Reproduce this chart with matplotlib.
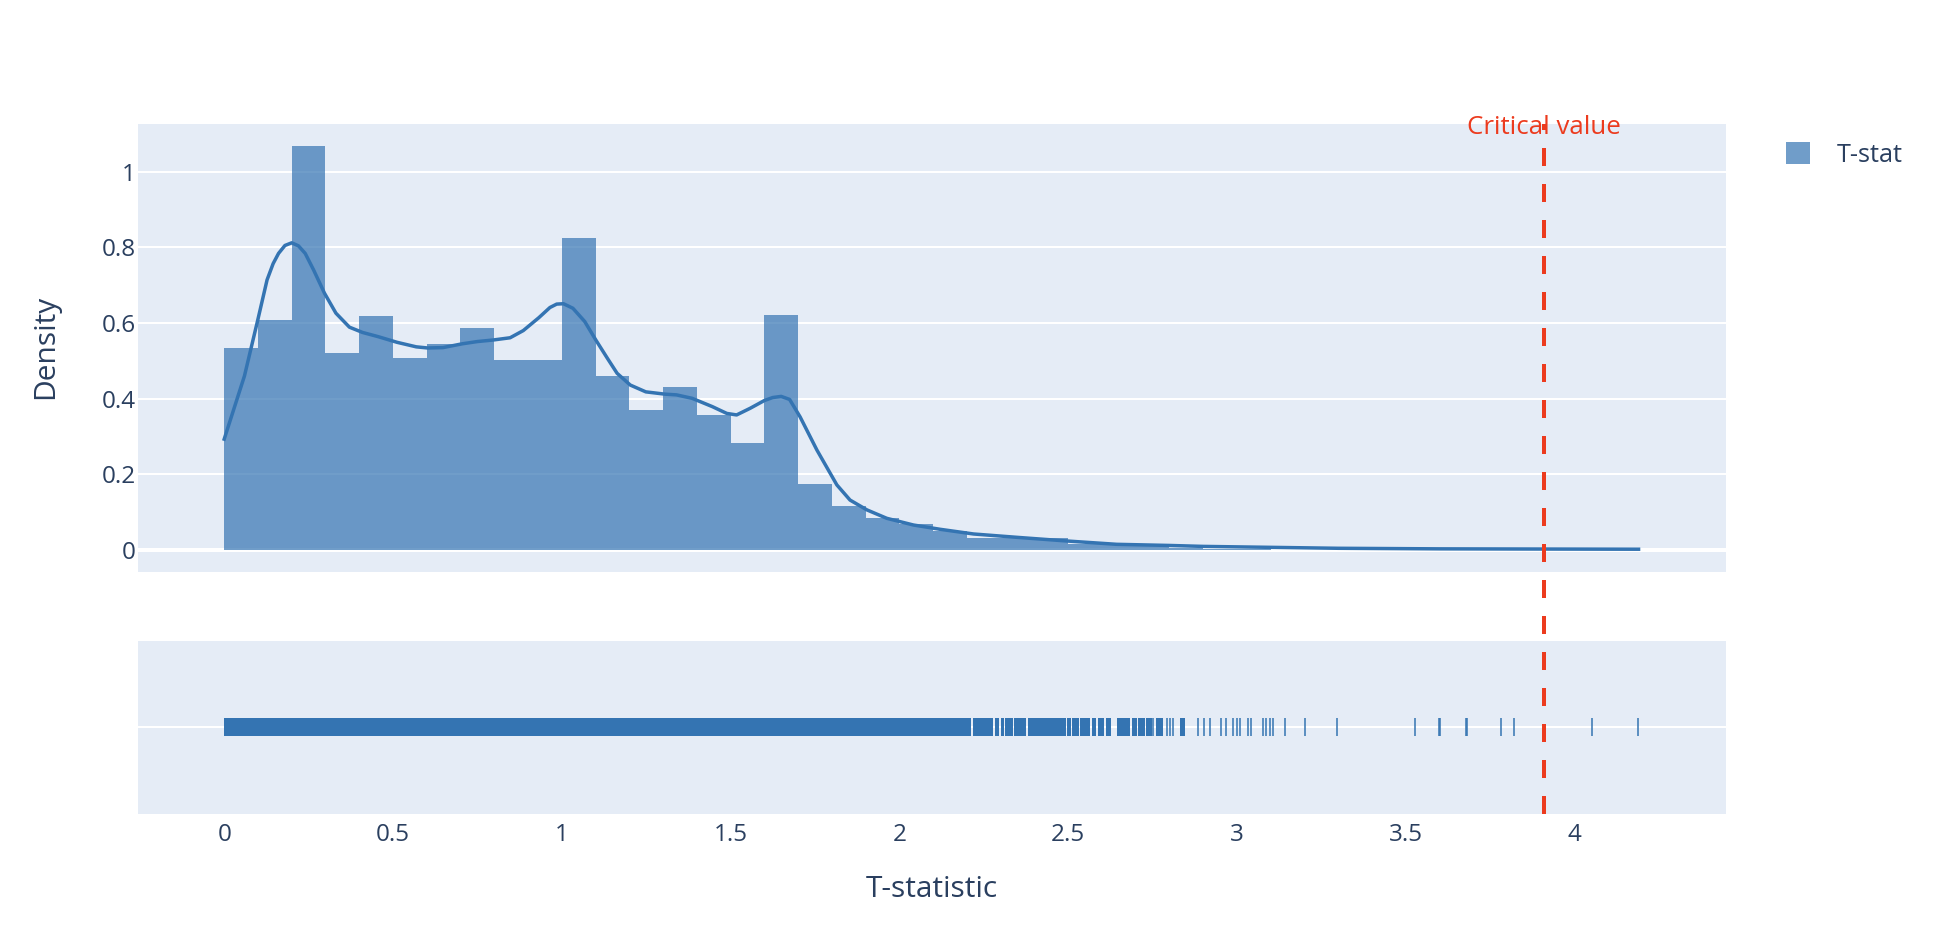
"""
Distribution of the T-statistic: histogram + KDE curve, rug strip underneath,
and the critical value marked across both panels.
"""

import numpy as np
import matplotlib
matplotlib.use("Agg")
import matplotlib.pyplot as plt
from matplotlib.lines import Line2D
from matplotlib.transforms import blended_transform_factory

# --- data ------------------------------------------------------------------
bin_width = 0.1
bin_starts = np.round(np.arange(0.0, 4.2, bin_width), 1)
density = [
    0.534, 0.607, 1.068, 0.522, 0.618, 0.507, 0.544, 0.586, 0.501, 0.501,
    0.824, 0.459, 0.369, 0.432, 0.358, 0.284, 0.622, 0.174, 0.116, 0.085,
    0.070, 0.049, 0.033, 0.032, 0.031, 0.017, 0.015, 0.013, 0.004, 0.003,
    0.0035, 0.001, 0.001, 0.0, 0.0, 0.0005, 0.002, 0.0005, 0.0005, 0.0,
    0.0005, 0.0005,
]

kde_x = [
    0.000, 0.060, 0.100, 0.127, 0.145, 0.161, 0.180, 0.200, 0.220, 0.240,
    0.265, 0.297, 0.331, 0.371, 0.410, 0.456, 0.512, 0.569, 0.603, 0.648,
    0.705, 0.750, 0.796, 0.847, 0.886, 0.932, 0.965, 0.985, 1.005, 1.033,
    1.068, 1.101, 1.135, 1.164, 1.203, 1.249, 1.305, 1.340, 1.386, 1.446,
    1.489, 1.518, 1.558, 1.600, 1.625, 1.650, 1.675, 1.706, 1.756, 1.815,
    1.854, 1.904, 1.963, 2.042, 2.121, 2.220, 2.348, 2.496, 2.644, 2.800,
    2.900, 3.100, 3.300, 3.600, 3.900, 4.190,
]
kde_y = [
    0.293, 0.460, 0.610, 0.714, 0.757, 0.784, 0.805, 0.812, 0.804, 0.784,
    0.740, 0.679, 0.626, 0.589, 0.575, 0.564, 0.549, 0.537, 0.534, 0.535,
    0.545, 0.551, 0.555, 0.561, 0.580, 0.614, 0.641, 0.650, 0.651, 0.639,
    0.604, 0.555, 0.507, 0.467, 0.436, 0.418, 0.412, 0.410, 0.401, 0.379,
    0.361, 0.357, 0.3745, 0.395, 0.403, 0.406, 0.398, 0.352, 0.264, 0.172,
    0.132, 0.106, 0.0837, 0.066, 0.0547, 0.0423, 0.0335, 0.0238, 0.015, 0.012,
    0.0095, 0.007, 0.0045, 0.003, 0.0025, 0.002,
]

# rug: stretches where observations are packed solid, then single observations
rug_span_start = [
    0.000, 2.219, 2.282, 2.301, 2.314, 2.340, 2.380, 2.497, 2.512, 2.536,
    2.571, 2.589, 2.613, 2.646, 2.689, 2.708, 2.731, 2.760, 2.832,
]
rug_span_end = [
    2.212, 2.279, 2.296, 2.309, 2.336, 2.376, 2.494, 2.508, 2.532, 2.565,
    2.584, 2.607, 2.628, 2.684, 2.704, 2.729, 2.748, 2.782, 2.847,
]
rug_points = [
    2.753, 2.792, 2.802, 2.812, 2.886, 2.902, 2.921, 2.952, 2.967, 2.990,
    2.999, 3.009, 3.033, 3.042, 3.078, 3.087, 3.097, 3.108, 3.142, 3.203,
    3.298, 3.527, 3.600, 3.602, 3.679, 3.681, 3.782, 3.822, 4.053, 4.189,
]

critical_value = 3.91
x_ticks = [0, 0.5, 1, 1.5, 2, 2.5, 3, 3.5, 4]
y_ticks = [0, 0.2, 0.4, 0.6, 0.8, 1]

# --- style -------------------------------------------------------------------
BLUE = "#3474b2"
RED = "#ec3b1e"
BG = "#E5ECF6"
INK = "#2a3f5f"

plt.rcParams["font.family"] = ["Open Sans", "DejaVu Sans"]

fig = plt.figure(figsize=(19.4, 9.42), dpi=100)
ax1 = fig.add_axes([0.07088, 0.39310, 0.81881, 0.47527])
ax2 = fig.add_axes([0.07088, 0.13620, 0.81881, 0.18365], sharex=ax1)

for ax in (ax1, ax2):
    ax.set_facecolor(BG)
    for s in ax.spines.values():
        s.set_visible(False)
    ax.tick_params(length=0, labelsize=17.5, labelcolor=INK)
    ax.set_axisbelow(True)

# 1. Histogram + KDE
ax1.bar(bin_starts, density, width=bin_width, align="edge", color=BLUE,
        alpha=0.7, linewidth=0, label="T-stat", zorder=2)
ax1.plot(kde_x, kde_y, color=BLUE, lw=2.5, zorder=3, solid_joinstyle="round")
ax1.axhline(0, color="white", lw=2.9, zorder=1)
ax1.grid(axis="y", color="white", lw=1.44)
ax1.set_ylim(-0.0574, 1.1261)
ax1.set_yticks(y_ticks)
ax1.set_yticklabels([f"{v:g}" for v in y_ticks])
ax1.tick_params(axis="y", pad=1)
ax1.tick_params(axis="x", labelbottom=False)

# 2. Rug strip
half = 0.1023
spans = [(a, b - a) for a, b in zip(rug_span_start, rug_span_end)]
ax2.broken_barh(spans, (-half, 2 * half), facecolors=BLUE, zorder=3)
ax2.plot(rug_points, np.zeros(len(rug_points)), linestyle="none", marker="|",
         ms=12.74, mew=1.1, color=BLUE, zorder=3)
ax2.set_ylim(-1, 1)
ax2.set_yticks([0])
ax2.set_yticklabels([])
ax2.grid(axis="y", color="white", lw=1.44)
ax2.set_xlim(-0.2568, 4.449)
ax2.set_xticks(x_ticks)
ax2.set_xticklabels([f"{v:g}" for v in x_ticks])
ax2.tick_params(axis="x", pad=6.9)

# critical value across both panels
trans = blended_transform_factory(ax1.transData, fig.transFigure)
y_bot = ax2.get_position().y0
y_top = ax1.get_position().y1
lw = 2.88
fig.add_artist(Line2D([critical_value, critical_value], [y_bot, y_top],
                      transform=trans, color=RED, lw=lw,
                      linestyle=(0, (12.96 / lw, 12.96 / lw)), zorder=10))
fig.text(critical_value, 1 - 134.3 / 942, "Critical value", transform=trans,
         ha="center", va="baseline", fontsize=18.6, color=RED, zorder=11)

# axis titles
fig.text(0.48026, 1 - 896.7 / 942, "T-statistic", ha="center", va="baseline",
         fontsize=21.5, color=INK)
fig.text(46 / 1940, 1 - 346.7 / 942, "Density", rotation=90, ha="center",
         va="center", fontsize=21.5, color=INK)

ax1.legend(loc="upper left", bbox_to_anchor=(1785.7 / 1940, 1 - 142 / 942),
           bbox_transform=fig.transFigure, frameon=False, borderpad=0,
           borderaxespad=0, handlelength=0.95, handleheight=0.95,
           handletextpad=1.05, prop={"size": 18.2}, labelcolor=INK)

fig.savefig("out.png", dpi=100)
plt.close(fig)
